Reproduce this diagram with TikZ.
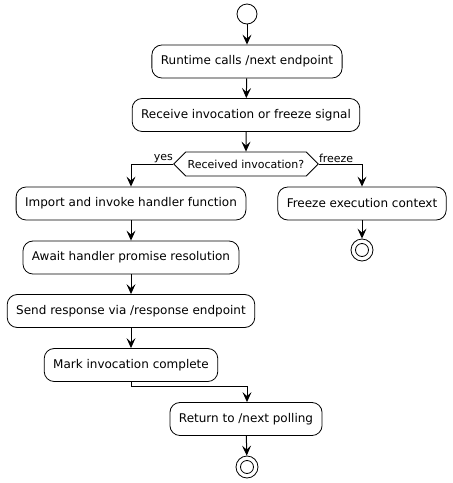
\documentclass[tikz,border=0pt]{standalone}
\usepackage{fontspec}
\setmainfont{DejaVu Sans}
\usetikzlibrary{shapes.symbols, arrows.meta}

\begin{document}
\begin{tikzpicture} [
  y=-1pt,
  x=1pt,
  act/.style={draw, line width=0.8pt, rounded corners=10pt, minimum height=33pt, inner xsep=9pt, font=\fontsize{12}{14}\selectfont},
  test/.style={draw, line width=0.8pt, signal, signal to=west and east, signal pointer angle=90, minimum height=24pt, inner xsep=2pt, font=\fontsize{11}{13}\selectfont},
  guard/.style={inner xsep=0pt, inner ysep=1pt, font=\fontsize{11}{13}\selectfont},
  start/.style={draw, line width=0.8pt, circle, minimum size=20pt, inner sep=0pt},
  stop/.style={draw, line width=0.8pt, circle, minimum size=22pt, inner sep=0pt,
    path picture={\draw[line width=0.8pt] (path picture bounding box.center) circle (6.5pt);}},
  flow/.style={line width=1pt, -{Stealth[length=10pt, width=9pt, inset=4pt]}}
  ]
  \useasboundingbox (0,0) rectangle (453,483);
  \node(start)[start, at={(247,14)}]{};
  \node(runtime)[act, at={(247,61.5)}]{Runtime calls /next endpoint};
  \node(receive)[act, at={(246,115)}]{Receive invocation or freeze signal};
  \node(check)[test, at={(246,164)}]{Received invocation?};
  \node(yes)[guard, anchor=south east, at={(check.west)}]{yes};
  \node(freeze)[guard, anchor=south west, at={(check.east)}]{freeze};
  \node(import)[act, at={(131,203.5)}]{Import and invoke handler function};
  \node(halt)[act, at={(362,203.5)}]{Freeze execution context};
  \node(halt-end)[stop, at={(362,250)}]{};
  \node(await)[act, at={(131,257.5)}]{Await handler promise resolution};
  \node(send)[act, at={(131,311)}]{Send response via /response endpoint};
  \node(mark)[act, at={(131,365)}]{Mark invocation complete};
  \node(return)[act, at={(246,419)}]{Return to /next polling};
  \node(end)[stop, at={(247,467)}]{};

  \draw[flow] (start) -- (runtime);
  \draw[flow] (runtime) -- (receive);
  \draw[flow] (receive) -- (check);
  \draw[flow] (check.west) -| (import);
  \draw[flow] (check.east) -| (halt);
  \draw[flow] (halt) -- (halt-end);
  \draw[flow] (import) -- (await);
  \draw[flow] (await) -- (send);
  \draw[flow] (send) -- (mark);
  \draw[flow] (mark.south) -- ++(0,5) -| (end |- return.north);
  \draw[flow] (return) -- (end);
\end{tikzpicture}
\end{document}
